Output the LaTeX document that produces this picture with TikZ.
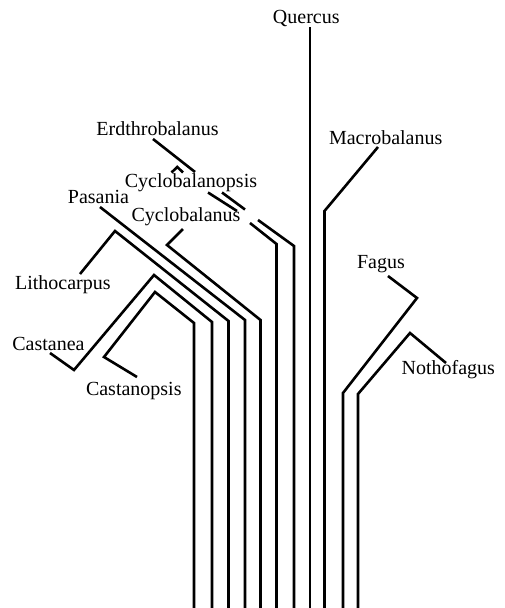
\documentclass[tikz,border=0pt]{standalone}
\usepackage{fontspec}
\setmainfont{Liberation Serif}
\begin{document}
\begin{tikzpicture}[x=1pt,y=-1pt,
  lab/.style={font=\fontsize{20}{24}\selectfont, inner sep=0pt, anchor=base},
  br/.style={line width=2.6pt, line join=miter}]
\useasboundingbox (0,0) rectangle (505,608);
% ---- labels ----
\node[lab] (quercus)  at (306.3,23)  {Quercus};
\node[lab] (macro)    at (385.7,144.5) {Macrobalanus};
\node[lab] (erd)      at (157.5,135.5) {Erdthrobalanus};
\node[lab] (cyclops)  at (191,187.5) {Cyclobalanopsis};
\node[lab] (pasania)  at (98.5,203)  {Pasania};
\node[lab] (cyclus)   at (186,221.5) {Cyclobalanus};
\node[lab] (litho)    at (62.9,289.5) {Lithocarpus};
\node[lab] (castanea) at (48.5,350.5) {Castanea};
\node[lab] (castops)  at (133.8,395.5) {Castanopsis};
\node[lab] (fagus)    at (381,268)   {Fagus};
\node[lab] (notho)    at (448.3,374.5) {Nothofagus};
% ---- Quercus ----
\coordinate (q0) at (310,27);
\coordinate (qB) at (310,608);
\draw[br] (q0) -- (qB);
% ---- Macrobalanus ----
\coordinate (m0) at (378,147);
\coordinate (m1) at (324.5,211);
\coordinate (mB) at (324.5,608);
\draw[br] (m0) -- (m1) -- (mB);
% ---- Erdthrobalanus ----
\coordinate (e0) at (153,139);
\coordinate (e1) at (195,172);
\coordinate (e2) at (222,192.5);
\coordinate (e3) at (245,209.5);
\coordinate (e4) at (258,220);
\coordinate (e5) at (294,246);
\coordinate (eB) at (294,608);
\draw[br] (e0) -- (e1);
\draw[br] (e2) -- (e3);
\draw[br] (e4) -- (e5) -- (eB);
% ---- Cyclobalanopsis ----
\coordinate (o0) at (171.5,172.5);
\coordinate (o1) at (177.3,167);
\coordinate (o2) at (183,172.5);
\coordinate (o3) at (208,192.5);
\coordinate (o4) at (237,211);
\coordinate (o5) at (250,223);
\coordinate (o6) at (276.5,244);
\coordinate (oB) at (276.5,608);
\draw[br] (o0) -- (o1) -- (o2);
\draw[br] (o3) -- (o4);
\draw[br] (o5) -- (o6) -- (oB);
% ---- Cyclobalanus ----
\coordinate (c0) at (183,229);
\coordinate (c1) at (167,245);
\coordinate (c2) at (260.5,320);
\coordinate (cB) at (260.5,608);
\draw[br] (c0) -- (c1) -- (c2) -- (cB);
% ---- Pasania ----
\coordinate (p0) at (100,207);
\coordinate (p1) at (245,320);
\coordinate (pB) at (245,608);
\draw[br] (p0) -- (p1) -- (pB);
% ---- Lithocarpus ----
\coordinate (l0) at (80,274);
\coordinate (l1) at (115,231);
\coordinate (l2) at (228.5,321);
\coordinate (lB) at (228.5,608);
\draw[br] (l0) -- (l1) -- (l2) -- (lB);
% ---- Castanea ----
\coordinate (a0) at (50,353);
\coordinate (a1) at (74,370);
\coordinate (a2) at (154,275);
\coordinate (a3) at (212,322);
\coordinate (aB) at (212,608);
\draw[br] (a0) -- (a1) -- (a2) -- (a3) -- (aB);
% ---- Castanopsis ----
\coordinate (s0) at (137,377);
\coordinate (s1) at (104,357);
\coordinate (s2) at (155,292);
\coordinate (s3) at (194,323);
\coordinate (sB) at (194,608);
\draw[br] (s0) -- (s1) -- (s2) -- (s3) -- (sB);
% ---- Fagus ----
\coordinate (f0) at (388,276);
\coordinate (f1) at (417,298);
\coordinate (f2) at (343,393);
\coordinate (fB) at (343,608);
\draw[br] (f0) -- (f1) -- (f2) -- (fB);
% ---- Nothofagus ----
\coordinate (n0) at (446,363);
\coordinate (n1) at (410,333);
\coordinate (n2) at (358,394);
\coordinate (nB) at (358,608);
\draw[br] (n0) -- (n1) -- (n2) -- (nB);
\end{tikzpicture}
\end{document}
